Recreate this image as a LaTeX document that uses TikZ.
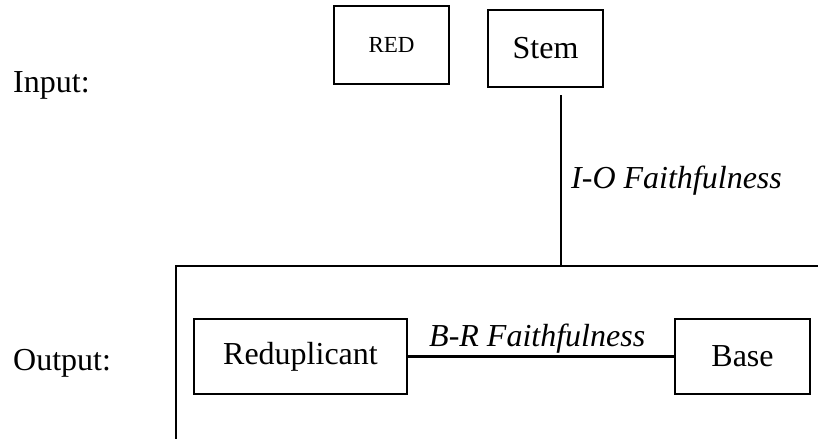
\documentclass[tikz,border=0pt]{standalone}
\usepackage{fontspec}
\setmainfont{Liberation Serif}
\begin{document}
\begin{tikzpicture}[x=1pt,y=-1pt,
  box/.style={draw, line width=2.5pt, inner sep=0pt, align=center},
  big/.style={font=\fontsize{32}{38}\selectfont},
  small/.style={font=\fontsize{23}{28}\selectfont},
  lab/.style={inner sep=0pt, font=\fontsize{32}{38}\selectfont},
  conn/.style={line width=2.5pt}]
\useasboundingbox (0,0) rectangle (818,439);
% input row
\node[box, small, minimum width=115pt, minimum height=78pt] (red) at (391.5,45) {RED};
\node[box, big, minimum width=115pt, minimum height=77pt] (stem) at (545.5,48.5) {Stem};
\node[lab, anchor=base west] (input) at (13,92) {Input:};
% I-O
\coordinate (iotop) at (561,95);
\coordinate (iobot) at (561,266);
\draw[conn] (iotop) -- (iobot);
\node[lab, anchor=base west] (io) at (571,188) {\itshape I-O Faithfulness};
% output frame
\coordinate (fl) at (176,266);
\coordinate (fr) at (818,266);
\coordinate (fb) at (176,439);
\draw[conn] (fr) -- (fl) -- (fb);
% output row
\node[lab, anchor=base west] (output) at (13,370) {Output:};
\node[box, big, minimum width=213pt, minimum height=75pt] (redup) at (300.5,356.5) {Reduplicant};
\node[box, big, minimum width=135pt, minimum height=75pt] (base) at (742.5,356.5) {Base};
\draw[conn] (redup.east) -- (base.west);
\node[lab, anchor=base west] (br) at (429,346) {\itshape B-R Faithfulness};
\end{tikzpicture}
\end{document}
